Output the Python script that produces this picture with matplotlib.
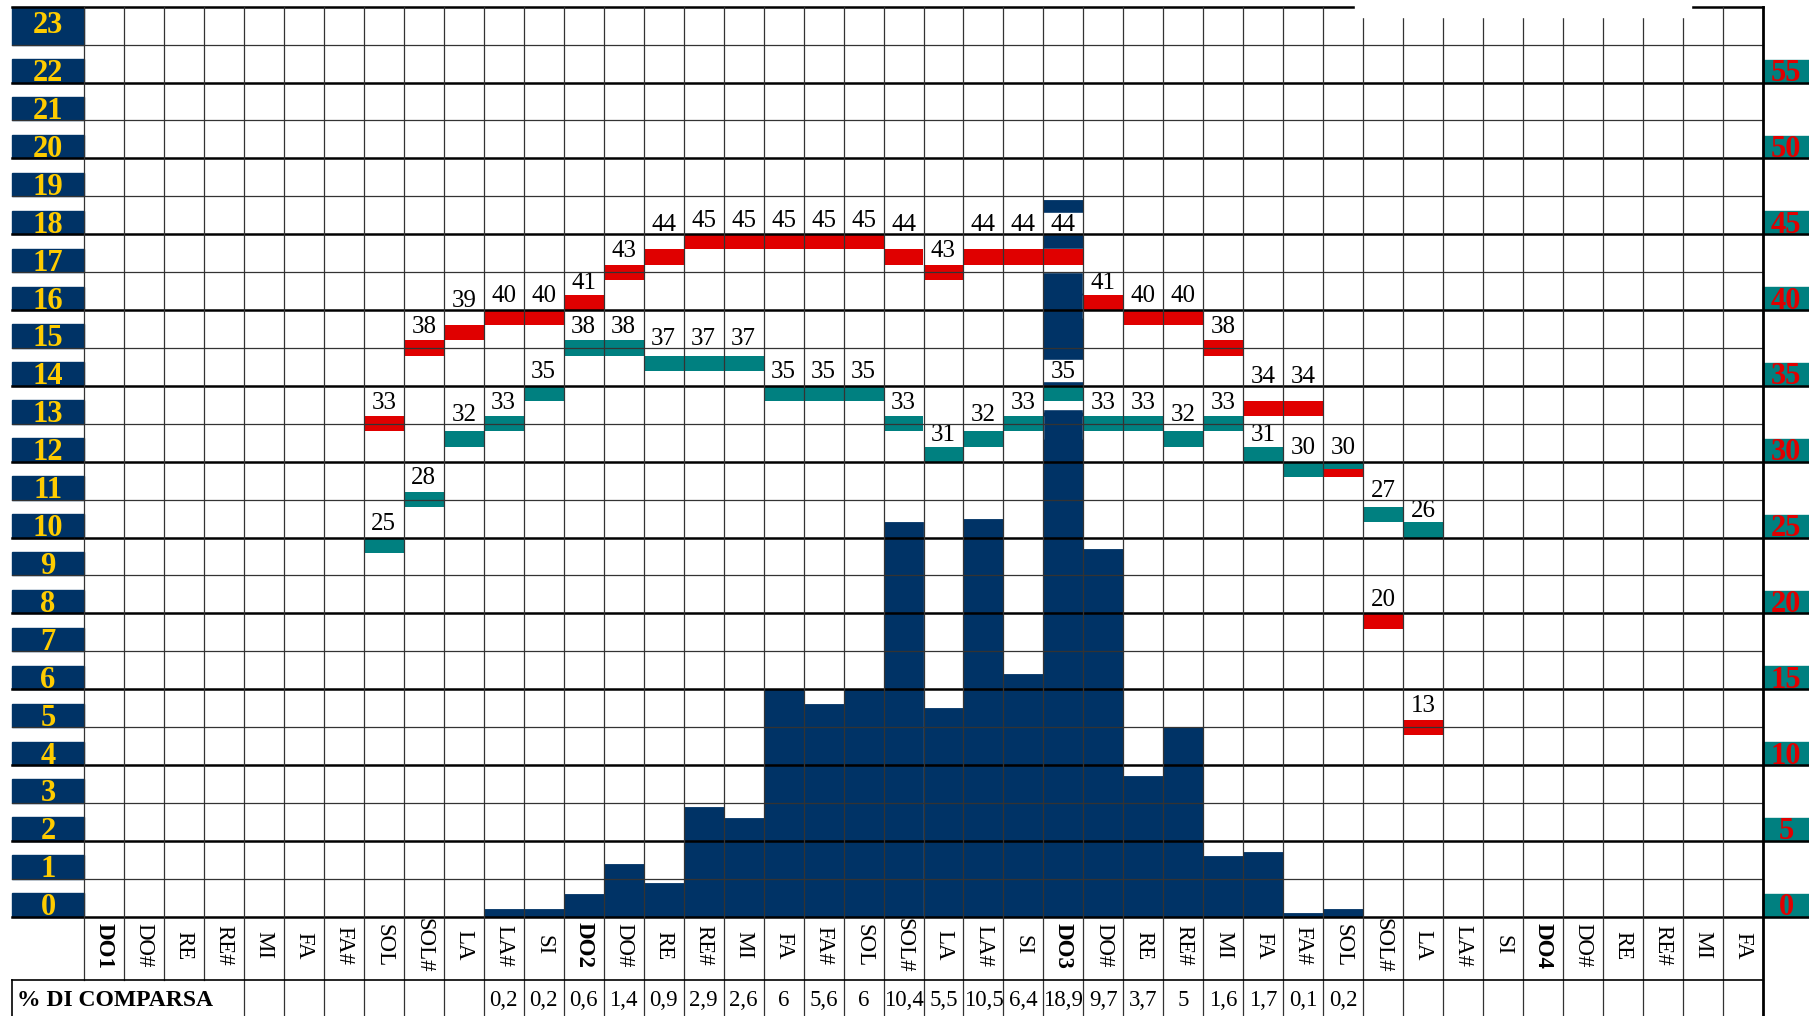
import matplotlib
matplotlib.use('Agg')
import matplotlib.pyplot as plt
from matplotlib.patches import Rectangle
from matplotlib.transforms import blended_transform_factory

# note names along the bottom (42 semitones, DO1 .. FA4)
notes = ['DO1', 'DO#', 'RE', 'RE#', 'MI', 'FA', 'FA#', 'SOL', 'SOL#', 'LA', 'LA#', 'SI',
         'DO2', 'DO#', 'RE', 'RE#', 'MI', 'FA', 'FA#', 'SOL', 'SOL#', 'LA', 'LA#', 'SI',
         'DO3', 'DO#', 'RE', 'RE#', 'MI', 'FA', 'FA#', 'SOL', 'SOL#', 'LA', 'LA#', 'SI',
         'DO4', 'DO#', 'RE', 'RE#', 'MI', 'FA']
bold_notes = ['DO1', 'DO2', 'DO3', 'DO4']

# % di comparsa (left scale), None = empty cell
percent = [None] * 10 + [0.2, 0.2, 0.6, 1.4, 0.9, 2.9, 2.6, 6, 5.6, 6, 10.4, 5.5, 10.5,
                         6.4, 18.9, 9.7, 3.7, 5, 1.6, 1.7, 0.1, 0.2] + [None] * 10

# upper (red) and lower (teal) values, right scale, from column 7 (SOL1) to 33 (LA3)
first_col = 7
red_vals = [33, 38, 39, 40, 40, 41, 43, 44, 45, 45, 45, 45, 45, 44, 43, 44, 44, 44,
            41, 40, 40, 38, 34, 34, 30, 20, 13]
teal_vals = [25, 28, 32, 33, 35, 38, 38, 37, 37, 37, 35, 35, 35, 33, 31, 32, 33, 35,
             33, 33, 32, 33, 31, 30, 30, 27, 26]

left_ticks = list(range(0, 24))
right_ticks = list(range(0, 60, 5))

NAVY = '#003366'
GOLD = '#FFCC00'
TEAL = '#008080'
RED = '#E00000'

plt.rcParams['font.family'] = ['Liberation Serif', 'DejaVu Serif']

fig = plt.figure(figsize=(18.09, 10.16), dpi=100)
W, H = 1809, 1016
ax = fig.add_axes([84 / W, (H - 916.7) / H, (1763 - 84) / W, 910 / H])
ax2 = ax.twinx()
for a in (ax, ax2):
    a.set_xlim(-0.5, len(notes) - 0.5)
    for s in a.spines.values():
        s.set_visible(False)
    a.set_xticks([])
    a.set_yticks([])
ax.set_ylim(0, 24)
ax2.set_ylim(0, 60)

# navy bars
xs = [i for i, p in enumerate(percent) if p is not None]
ax.bar(xs, [percent[i] for i in xs], width=1.0, color=NAVY, edgecolor=NAVY,
       linewidth=0.6, zorder=2)

# left axis boxes
tl = blended_transform_factory(ax.transAxes, ax.transData)
box_w = 72 / 1679
for n in left_ticks:
    top_box = (n == left_ticks[-1])
    h = 1.0 if top_box else 0.62
    ax.add_patch(Rectangle((-box_w, n), box_w, h, transform=tl, color=NAVY,
                           clip_on=False, zorder=3))
    ax.text(-box_w / 2, n + 0.5 if top_box else n + 0.04, str(n), transform=tl,
            ha='center', va='center' if top_box else 'baseline',
            color=GOLD, fontsize=22, fontweight='bold', clip_on=False, zorder=4)

# right axis boxes
tr = blended_transform_factory(ax2.transAxes, ax2.transData)
rbox_w = 46 / 1679
for v in right_ticks:
    ax2.add_patch(Rectangle((1, v), rbox_w, 1.5, transform=tr, color=TEAL,
                            clip_on=False, zorder=3))
    ax2.text(1 + rbox_w / 2, v + 0.1, str(v), transform=tr, ha='center', va='baseline',
             color=RED, fontsize=22, fontweight='bold', clip_on=False, zorder=4)


def label_y(v):
    # put the value label above its bar, away from the grid lines
    c = v + 1.0
    for k in range(0, 25):
        line = k * 2.5
        if c - 0.6 < line < c + 0.6:
            if line - 0.65 >= v + 0.5:
                return line - 0.65
            return line + 0.7
    return c


# red / teal steps with their labels
for j, (r, t) in enumerate(zip(red_vals, teal_vals)):
    x = first_col + j
    for v in (r, t):
        ax2.add_patch(Rectangle((x - 0.5, v - 1.5), 1.0, 1.5, color='white', zorder=2))
    if r == t:
        ax2.bar(x, 0.5, bottom=r - 1, width=1.0, color=RED, zorder=3)
        ax2.bar(x, 0.5, bottom=t - 0.5, width=1.0, color=TEAL, zorder=3)
        labels = [r]
    else:
        ax2.bar(x, 1, bottom=r - 1, width=1.0, color=RED, zorder=3)
        ax2.bar(x, 1, bottom=t - 1, width=1.0, color=TEAL, zorder=3)
        labels = [r, t]
    for v in labels:
        ly = label_y(v)
        ax2.add_patch(Rectangle((x - 0.5, ly - 0.7), 1.0, 1.4, color='white', zorder=2))
        ax2.text(x, ly - 0.1, str(v), ha='center', va='center', fontsize=18,
                 color='black', zorder=4)

# horizontal grid lines (right scale, every 2.5 = one left unit)
for k in range(0, 25):
    y = k * 2.5
    thick = (k % 2 == 0)
    x1 = 1 + rbox_w if (thick and 0 <= k <= 22) else 1.0
    ax2.plot([-box_w, x1], [y, y], transform=tr, clip_on=False,
             color='black' if thick else '#333333', lw=1.8 if thick else 0.9, zorder=5)

# vertical grid lines and bottom table
tv = blended_transform_factory(ax2.transData, ax2.transAxes)
cat_bottom = -63 / 910
for i in range(len(notes) + 1):
    x = i - 0.5
    y0 = -0.13 if i >= 4 else cat_bottom
    edge = (i == len(notes))
    ax2.plot([x, x], [y0, 1], transform=tv, clip_on=False,
             color='black' if edge else '#333333', lw=2.0 if edge else 0.9, zorder=5)
ax2.plot([-box_w, 1], [cat_bottom, cat_bottom], transform=ax2.transAxes, clip_on=False,
         color='black', lw=1.2, zorder=5)
ax2.plot([-box_w, -box_w], [cat_bottom, -0.13], transform=ax2.transAxes, clip_on=False,
         color='black', lw=1.2, zorder=5)

for i, name in enumerate(notes):
    ax2.text(i, cat_bottom / 2 + 0.003, name, transform=tv, rotation=270, ha='center',
             va='center', fontsize=16.5,
             fontweight='bold' if name in bold_notes and i % 12 == 0 else 'normal',
             clip_on=False)
    if percent[i] is not None:
        ax2.text(i, -(1000 - 916.7) / 910, f'{percent[i]:g}'.replace('.', ','),
                 transform=tv, ha='center', va='center', fontsize=16.5, clip_on=False)

ax2.text(-67 / 1679, -(1000 - 916.7) / 910, '% DI COMPARSA', transform=ax2.transAxes,
         ha='left', va='center', fontsize=17, fontweight='bold', clip_on=False)

# white patch over the top border on the right
ax2.add_patch(Rectangle((31.3, 1 - 10.5 / 910), 8.4, 0.03, transform=tv,
                        color='white', clip_on=False, zorder=6))

fig.savefig('out.png', dpi=100)
